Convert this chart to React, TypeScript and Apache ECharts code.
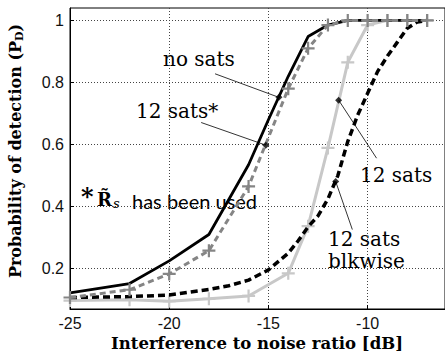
import React, { useEffect, useRef } from "react";
import * as echarts from "echarts";

// Interference-to-noise ratio (dB) sample points for each detector curve
const noSatsX = [-25, -22, -20, -18, -16, -15, -14, -13, -12, -11, -10, -9, -8, -7];
const noSatsY = [0.122, 0.152, 0.225, 0.31, 0.535, 0.68, 0.82, 0.948, 0.985, 1, 1, 1, 1, 1];

const sats12StarX = [-25, -22, -20, -18, -16, -14, -13, -12, -11, -10, -9, -8, -7];
const sats12StarY = [0.107, 0.132, 0.183, 0.258, 0.465, 0.78, 0.91, 0.985, 1, 1, 1, 1, 1];

const sats12X = [-25, -22, -20, -18, -16, -14, -13, -12, -11, -10, -9, -8, -7];
const sats12Y = [0.097, 0.1, 0.095, 0.103, 0.112, 0.185, 0.337, 0.589, 0.865, 0.985, 1, 1, 1];

const blkwiseX = [-25, -22, -20, -18, -17, -16, -15, -14, -13.5, -13, -12.5, -12, -11.5, -11, -10.5, -10, -9.5, -9, -8.5, -8, -7.5, -7];
const blkwiseY = [0.107, 0.11, 0.115, 0.133, 0.145, 0.163, 0.196, 0.25, 0.29, 0.335, 0.37, 0.425, 0.5, 0.61, 0.695, 0.765, 0.835, 0.885, 0.93, 0.975, 0.995, 1];

// Tick labels
const xTicks = [-25, -20, -15, -10];
const yTicks = [0.2, 0.4, 0.6, 0.8, 1];

// Annotation leaders: [from, to] in data space; the "to" end carries a small marker
const leaders: [number, number][][] = [
  [[-17.69, 0.828], [-14.47, 0.752]],
  [[-18.39, 0.671], [-15.13, 0.598]],
  [[-9.55, 0.556], [-11.46, 0.743]],
  [[-10.77, 0.326], [-11.61, 0.481]],
];

const zip = (xs: number[], ys: number[]) => xs.map((x, i) => [x, ys[i]]);

const plusSymbol =
  "path://M-1,-0.17H1V0.17H-1Z M-0.17,-1H0.17V1H-0.17Z";

const serif = '"DejaVu Serif", serif';

export default function App() {
  const ref = useRef<HTMLDivElement>(null);

  useEffect(() => {
    if (!ref.current) return;
    const chart = echarts.init(ref.current, undefined, { renderer: "svg" });

    const option: any = {
      animation: false,
      backgroundColor: "#fff",
      grid: {
        left: 70,
        top: 8,
        right: -2,
        bottom: 47,
        show: true,
        borderColor: "#000",
        borderWidth: 1,
      },
      xAxis: {
        type: "value",
        min: -25,
        max: -6.1,
        interval: 5,
        axisLine: { show: true, onZero: false, lineStyle: { color: "#000", width: 1 } },
        axisTick: { show: true, inside: true, length: 4, lineStyle: { color: "#000" } },
        axisLabel: {
          showMaxLabel: false,
          color: "#111",
          fontFamily: '"Liberation Sans", Arial, sans-serif',
          fontSize: 16,
          margin: 6,
          formatter: (v: number) => (xTicks.includes(v) ? String(v) : ""),
        },
        splitLine: {
          show: true,
          lineStyle: { color: "#444", type: [1, 2], width: 1 },
        },
      },
      yAxis: {
        type: "value",
        min: 0.07,
        max: 1.04,
        axisLine: { show: true, onZero: false, lineStyle: { color: "#000", width: 1 } },
        axisTick: {
          show: true,
          inside: true,
          length: 4,
          customValues: yTicks,
          lineStyle: { color: "#000" },
        },
        axisLabel: {
          customValues: yTicks,
          color: "#111",
          fontFamily: '"Liberation Sans", Arial, sans-serif',
          fontSize: 16,
          margin: 6,
          formatter: (v: number) => String(Math.round(v * 10) / 10),
        },
        splitLine: {
          show: true,
          lineStyle: { color: "#444", type: [1, 2], width: 1 },
        },
      },
      series: [
        {
          name: "12 sats",
          type: "line",
          data: zip(sats12X, sats12Y),
          symbol: plusSymbol,
          symbolSize: 13,
          showAllSymbol: true,
          itemStyle: { color: "#c8c8c8" },
          lineStyle: { color: "#c8c8c8", width: 3 },
          z: 2,
        },
        {
          name: "12 sats blkwise",
          type: "line",
          data: zip(blkwiseX, blkwiseY),
          symbol: "none",
          lineStyle: { color: "#000", width: 3.5, type: [7, 4] },
          z: 3,
        },
        {
          name: "no sats",
          type: "line",
          data: zip(noSatsX, noSatsY),
          symbol: "none",
          lineStyle: { color: "#000", width: 2.8 },
          z: 4,
        },
        {
          name: "12 sats*",
          type: "line",
          data: zip(sats12StarX, sats12StarY),
          symbol: plusSymbol,
          symbolSize: 13,
          showAllSymbol: true,
          itemStyle: { color: "#858585" },
          lineStyle: { color: "#858585", width: 3, type: [6, 4] },
          z: 5,
        },
        {
          name: "leaders",
          type: "lines",
          coordinateSystem: "cartesian2d",
          data: leaders.map((c) => ({ coords: c })),
          lineStyle: { color: "#000", width: 0.8, opacity: 1 },
          symbol: ["none", "none"],
          z: 6,
        },
        {
          name: "anchors",
          type: "scatter",
          data: leaders.map((c) => c[1]),
          symbol: "diamond",
          symbolSize: 7,
          itemStyle: { color: "#000" },
          z: 7,
        },
      ],
      graphic: [
        {
          type: "text",
          x: 15,
          y: 151,
          rotation: Math.PI / 2,
          style: {
            text: "{t|Probability of detection (P}{s|D}{t|)}",
            textAlign: "center",
            textVerticalAlign: "middle",
            fill: "#000",
            rich: {
              t: { fontFamily: serif, fontWeight: "bold", fontSize: 16 },
              s: { fontFamily: serif, fontWeight: "bold", fontSize: 11, verticalAlign: "bottom", padding: [8, 0, 0, 0] },
            },
          },
        },
        {
          type: "text",
          x: 257,
          y: 343,
          style: {
            text: "Interference to noise ratio [dB]",
            font: `bold 16.5px ${serif}`,
            textAlign: "center",
            textVerticalAlign: "middle",
            fill: "#000",
          },
        },
        {
          type: "text",
          x: 163,
          y: 59,
          style: { text: "no sats", font: `20px ${serif}`, textVerticalAlign: "middle", fill: "#000" },
        },
        {
          type: "text",
          x: 136,
          y: 111,
          style: { text: "12 sats*", font: `20px ${serif}`, textVerticalAlign: "middle", fill: "#000" },
        },
        {
          type: "text",
          x: 360,
          y: 175,
          style: { text: "12 sats", font: `20px ${serif}`, textVerticalAlign: "middle", fill: "#000" },
        },
        {
          type: "text",
          x: 328,
          y: 239,
          style: { text: "12 sats", font: `20px ${serif}`, textVerticalAlign: "middle", fill: "#000" },
        },
        {
          type: "text",
          x: 328,
          y: 261,
          style: { text: "blkwise", font: `20px ${serif}`, textVerticalAlign: "middle", fill: "#000" },
        },
        {
          type: "text",
          x: 81,
          y: 196,
          style: { text: "*", font: `bold 24px ${serif}`, textVerticalAlign: "middle", fill: "#000" },
        },
        {
          type: "text",
          x: 97,
          y: 199,
          style: {
            text: "{r|R\u0303}{s|s}",
            textVerticalAlign: "middle",
            fill: "#000",
            rich: {
              r: { fontFamily: serif, fontWeight: "bold", fontSize: 18 },
              s: { fontFamily: serif, fontStyle: "italic", fontSize: 13, verticalAlign: "bottom", padding: [8, 0, 0, 1] },
            },
          },
        },
        {
          type: "text",
          x: 132,
          y: 201,
          style: { text: "has been used", font: `20px Lato, sans-serif`, textVerticalAlign: "middle", fill: "#000" },
        },
      ],
    };

    chart.setOption(option);
    return () => chart.dispose();
  }, []);

  return (
    <div
      ref={ref}
      style={{ position: "absolute", left: 0, top: 0, width: 445, height: 356 }}
    />
  );
}
